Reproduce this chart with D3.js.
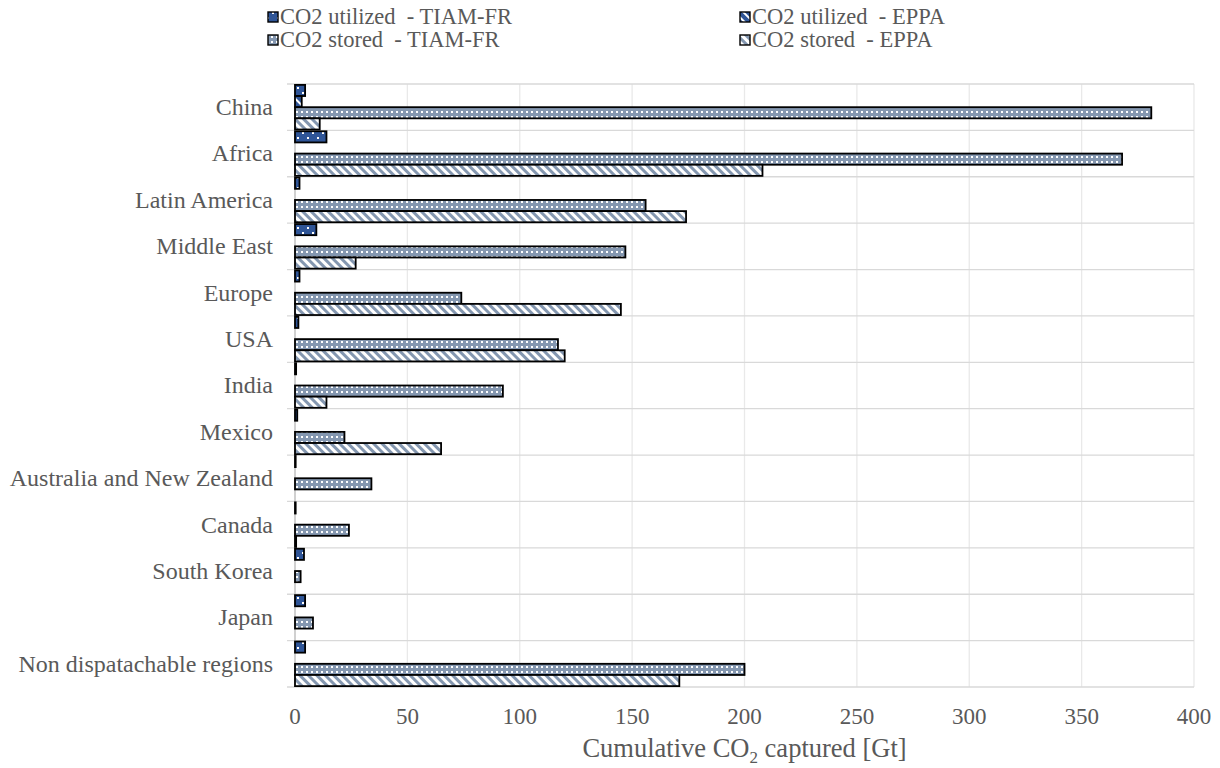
<!DOCTYPE html>
<html lang="en">
<head>
<meta charset="UTF-8">
<title>Cumulative CO2 captured</title>
<script src="https://cdn.jsdelivr.net/npm/d3@7/dist/d3.min.js"></script>
<style>
    body { margin: 0; background: #fff; }
    text { font-family: "Liberation Serif", "Times New Roman", serif; fill: #595959; }
    .cat { font-size: 24px; text-anchor: end; }
    .tick-label { font-size: 23px; text-anchor: middle; }
    .legend text { font-size: 22.5px; white-space: pre; }
</style>
</head>
<body>
<script>
    // Data (Gt)
    const regions = ["China", "Africa", "Latin America", "Middle East", "Europe", "USA", "India",
        "Mexico", "Australia and New Zealand", "Canada", "South Korea", "Japan", "Non dispatachable regions"];
    const utilizedTiam = [4.5, 14, 2, 9.5, 2, 1.5, 0.5, 1, 0.3, 0.3, 4, 4.5, 4.5];
    const utilizedEppa = [3, 0, 0, 0, 0, 0, 0, 0, 0, 0, 0, 0, 0];
    const storedTiam = [381, 368, 156, 147, 74, 117, 92.5, 22, 34, 24, 2.5, 8, 200];
    const storedEppa = [11, 208, 174, 27, 145, 120, 14, 65, 0, 0.5, 0, 0, 171];
    const xTicks = [0, 50, 100, 150, 200, 250, 300, 350, 400];

    const seriesNames = ["CO2 utilized  - TIAM-FR", "CO2 utilized  - EPPA", "CO2 stored  - TIAM-FR", "CO2 stored  - EPPA"];
    const seriesValues = [utilizedTiam, utilizedEppa, storedTiam, storedEppa];
    const seriesKeys = ["ut", "ue", "st", "se"];

    const W = 1220, H = 768;
    const plot = {left: 295, right: 1194, top: 84, bottom: 687};

    const svg = d3.select("body").append("svg")
        .attr("width", W).attr("height", H);

    // Patterns
    const defs = svg.append("defs");
    const dark = "#2f5597", light = "#8497b0";

    const p1 = defs.append("pattern").attr("id", "pat-ut")
        .attr("patternUnits", "userSpaceOnUse").attr("width", 10).attr("height", 10);
    p1.append("rect").attr("width", 10).attr("height", 10).attr("fill", dark);
    p1.append("rect").attr("x", 2).attr("y", 2).attr("width", 2).attr("height", 2).attr("fill", "#fff");
    p1.append("rect").attr("x", 7).attr("y", 7).attr("width", 2).attr("height", 2).attr("fill", "#fff");

    const p2 = defs.append("pattern").attr("id", "pat-ue")
        .attr("patternUnits", "userSpaceOnUse").attr("width", 6).attr("height", 6)
        .attr("patternTransform", "rotate(-45)");
    p2.append("rect").attr("width", 6).attr("height", 6).attr("fill", dark);
    p2.append("rect").attr("width", 2).attr("height", 6).attr("fill", "#fff");

    const p3 = defs.append("pattern").attr("id", "pat-st")
        .attr("patternUnits", "userSpaceOnUse").attr("width", 5).attr("height", 5);
    p3.append("rect").attr("width", 5).attr("height", 5).attr("fill", light);
    p3.append("rect").attr("x", 1).attr("y", 1).attr("width", 2).attr("height", 2).attr("fill", "#fff");

    const p4 = defs.append("pattern").attr("id", "pat-se")
        .attr("patternUnits", "userSpaceOnUse").attr("width", 6).attr("height", 6)
        .attr("patternTransform", "rotate(-45)");
    p4.append("rect").attr("width", 6).attr("height", 6).attr("fill", light);
    p4.append("rect").attr("width", 3).attr("height", 6).attr("fill", "#fff");

    // Scales
    const x = d3.scaleLinear().domain([0, 400]).range([plot.left, plot.right]);
    const y = d3.scaleBand().domain(regions).range([plot.top, plot.bottom]).padding(0);
    const ySub = d3.scaleBand().domain(seriesKeys).range([0, y.bandwidth()])
        .paddingInner(0).paddingOuter(0.08);

    // Vertical gridlines
    svg.append("g").selectAll("line")
        .data(xTicks)
        .join("line")
        .attr("x1", d => x(d)).attr("x2", d => x(d))
        .attr("y1", plot.top).attr("y2", plot.bottom)
        .attr("stroke", "#e9e9e9").attr("stroke-width", 1.3);

    // Horizontal category separators
    const bounds = regions.map(r => y(r)).concat([plot.bottom]);
    svg.append("g").selectAll("line")
        .data(bounds)
        .join("line")
        .attr("x1", 287).attr("x2", plot.right)
        .attr("y1", d => d).attr("y2", d => d)
        .attr("stroke", "#d9d9d9").attr("stroke-width", 1.3);

    // Left axis line
    svg.append("line")
        .attr("x1", x(0)).attr("x2", x(0))
        .attr("y1", plot.top).attr("y2", plot.bottom)
        .attr("stroke", "#bfbfbf").attr("stroke-width", 1.3);

    // Bars
    seriesKeys.forEach((key, si) => {
        svg.append("g").selectAll("rect")
            .data(regions.map((r, i) => ({region: r, value: seriesValues[si][i]})))
            .join("rect")
            .attr("x", x(0))
            .attr("y", d => y(d.region) + ySub(key))
            .attr("width", d => x(d.value) - x(0))
            .attr("height", ySub.bandwidth())
            .attr("fill", `url(#pat-${key})`)
            .attr("stroke", d => d.value > 0 ? "#000" : "none")
            .attr("stroke-width", 1.8);
    });

    // Category labels
    svg.append("g").selectAll("text")
        .data(regions)
        .join("text")
        .attr("class", "cat")
        .attr("x", 273)
        .attr("y", d => y(d) + y.bandwidth() / 2)
        .attr("dy", "0.33em")
        .text(d => d);

    // X tick labels
    svg.append("g").selectAll("text")
        .data(xTicks)
        .join("text")
        .attr("class", "tick-label")
        .attr("x", d => x(d))
        .attr("y", 724)
        .text(d => d);

    // Axis title
    const title = svg.append("text")
        .attr("x", (plot.left + plot.right) / 2)
        .attr("y", 757)
        .attr("text-anchor", "middle")
        .style("font-size", "26.5px");
    title.append("tspan").text("Cumulative CO");
    title.append("tspan").attr("dy", 6).style("font-size", "17px").text("2");
    title.append("tspan").attr("dy", -6).text(" captured [Gt]");

    // Legend
    const legendPos = [[268, 24], [740, 24], [268, 47], [740, 47]];
    const legend = svg.append("g").attr("class", "legend");
    seriesKeys.forEach((key, i) => {
        const [lx, ly] = legendPos[i];
        legend.append("rect")
            .attr("x", lx).attr("y", ly - 12)
            .attr("width", 10).attr("height", 10)
            .attr("fill", `url(#pat-${key})`)
            .attr("stroke", "#000").attr("stroke-width", 1.4);
        legend.append("text")
            .attr("x", lx + 12).attr("y", ly)
            .text(seriesNames[i]);
    });
</script>
</body>
</html>
